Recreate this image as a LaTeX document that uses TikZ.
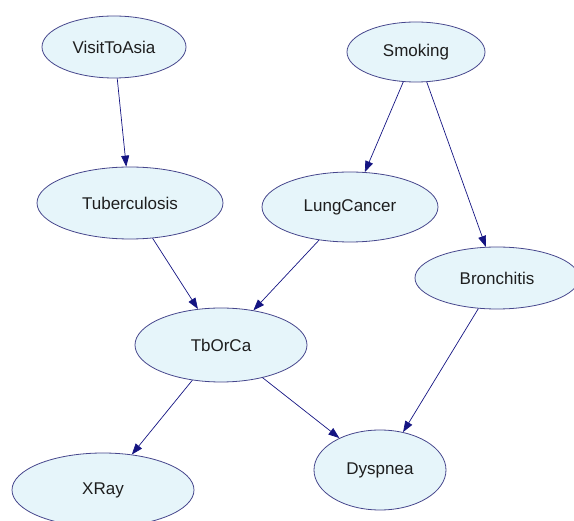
\documentclass[tikz,border=0pt]{standalone}
\usepackage{fontspec}
\setmainfont{Liberation Sans}
\usetikzlibrary{shapes.geometric,arrows.meta}
\definecolor{nodefill}{RGB}{230,245,250}
\definecolor{nodeline}{RGB}{70,70,140}
\definecolor{edgecol}{RGB}{20,20,130}
\definecolor{textcol}{RGB}{30,30,30}

\begin{document}
\begin{tikzpicture}[x=1pt,y=-1pt,
    var/.style={ellipse,draw=nodeline,fill=nodefill,line width=0.8pt,inner sep=0pt,text=textcol,font=\fontsize{17}{20}\selectfont},
    dep/.style={draw=edgecol,line width=0.7pt,-{Triangle[length=11pt,width=8pt]}}]
    \useasboundingbox (0,0) rectangle (574,521);
    \node[var,minimum width=144pt,minimum height=62pt] (v) at (114,47)  {VisitToAsia};
    \node[var,minimum width=138pt,minimum height=60pt] (s) at (416,52)  {Smoking};
    \node[var,minimum width=186pt,minimum height=72pt] (t) at (130,203) {Tuberculosis};
    \node[var,minimum width=176pt,minimum height=70pt] (l) at (350,207) {LungCancer};
    \node[var,minimum width=164pt,minimum height=62pt] (b) at (497,278) {Bronchitis};
    \node[var,minimum width=172pt,minimum height=74pt] (e) at (221,345) {TbOrCa};
    \node[var,minimum width=182pt,minimum height=74pt] (x) at (103,490) {XRay};
    \node[var,minimum width=132pt,minimum height=80pt] (d) at (380,470) {Dyspnea};
    \draw[dep] (v) -- (t);
    \draw[dep] (s) -- (l);
    \draw[dep] (s) -- (b);
    \draw[dep] (t) -- (e);
    \draw[dep] (l) -- (e);
    \draw[dep] (e) -- (x);
    \draw[dep] (e) -- (d);
    \draw[dep] (b) -- (d);
\end{tikzpicture}
\end{document}
